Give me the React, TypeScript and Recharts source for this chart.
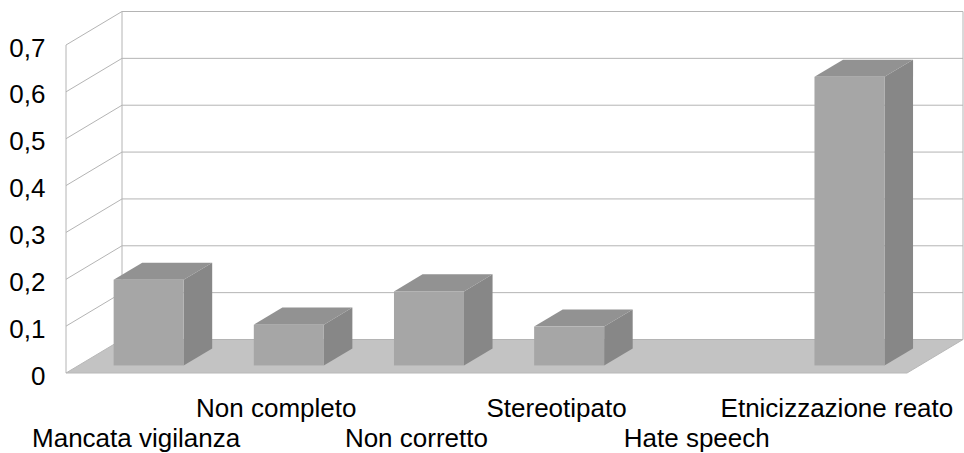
import React from 'react';
import { BarChart, Bar, XAxis, YAxis, CartesianGrid } from 'recharts';

// values
const categories = [
  'Mancata vigilanza',
  'Non completo',
  'Non corretto',
  'Stereotipato',
  'Hate speech',
  'Etnicizzazione reato',
];
const values = [0.183, 0.087, 0.158, 0.083, 0, 0.616];
const yTicks = [0, 0.1, 0.2, 0.3, 0.4, 0.5, 0.6, 0.7];

const data = categories.map((name, i) => ({ name, value: values[i] }));

// pseudo 3D depth of the chart box
const DX = 56;
const DY = 33.5;
const BAR_FRONT = 0.225;
const BAR_DEPTH = 0.51;
const GRID = '#b4b4b4';
const FONT = '"Liberation Sans", Arial, sans-serif';

const gridLine = (p: any) => {
  const { x1, x2, y1, y, height } = p;
  const bottom = y + height;
  const isFloor = Math.abs(y1 - bottom) < 0.5;
  const isTop = Math.abs(y1 - y) < 0.5;
  return (
    <g key={p.key}>
      {isFloor ? (
        <polygon
          points={`${x1},${bottom} ${x2},${bottom} ${x2 + DX},${bottom - DY} ${x1 + DX},${bottom - DY}`}
          fill="#c3c3c3"
          stroke="#b8b8b8"
          strokeWidth={1}
        />
      ) : (
        <line x1={x1} y1={y1} x2={x1 + DX} y2={y1 - DY} stroke={GRID} strokeWidth={1} />
      )}
      <line x1={x1 + DX} y1={y1 - DY} x2={x2 + DX} y2={y1 - DY} stroke={GRID} strokeWidth={1} />
      {isTop && (
        <>
          <line x1={x1} y1={y1} x2={x1} y2={bottom} stroke={GRID} strokeWidth={1} />
          <line x1={x1 + DX} y1={y1 - DY} x2={x1 + DX} y2={bottom - DY} stroke={GRID} strokeWidth={1} />
          <line x1={x2 + DX} y1={y1 - DY} x2={x2 + DX} y2={bottom - DY} stroke={GRID} strokeWidth={1} />
        </>
      )}
    </g>
  );
};

const Bar3D = (p: any) => {
  const { x, y, width, height } = p;
  if (!height || height <= 0) return <g />;
  const fx = x + DX * BAR_FRONT;
  const fy = y - DY * BAR_FRONT;
  const bx = DX * BAR_DEPTH;
  const by = DY * BAR_DEPTH;
  return (
    <g>
      <polygon
        points={`${fx},${fy} ${fx + bx},${fy - by} ${fx + width + bx},${fy - by} ${fx + width},${fy}`}
        fill="#929292"
      />
      <polygon
        points={`${fx + width},${fy} ${fx + width + bx},${fy - by} ${fx + width + bx},${fy + height - by} ${fx + width},${fy + height}`}
        fill="#878787"
      />
      <rect x={fx} y={fy} width={width} height={height} fill="#a6a6a6" />
    </g>
  );
};

const YTick = (p: any) => {
  const label = String(p.payload.value).replace('.', ',');
  return (
    <text x={45.5} y={p.y + 11.5} textAnchor="end" fontSize={26} fontFamily={FONT} fill="#000">
      {label}
    </text>
  );
};

const XTick = (p: any) => {
  const row = p.index % 2 === 0 ? 447 : 417.3;
  return (
    <text x={p.x} y={row} textAnchor="middle" fontSize={26} fontFamily={FONT} fill="#000">
      {p.payload.value}
    </text>
  );
};

export default function App() {
  return (
    <div style={{ position: 'absolute', left: 0, top: 0, background: '#fff' }}>
      <BarChart
        width={964}
        height={453}
        data={data}
        margin={{ top: 45, right: 57, bottom: 0, left: 0 }}
        barCategoryGap="25%"
      >
        <CartesianGrid vertical={false} horizontal={gridLine} />
        <XAxis
          dataKey="name"
          height={80}
          axisLine={false}
          tickLine={false}
          interval={0}
          tick={<XTick />}
        />
        <YAxis
          width={66}
          domain={[0, 0.7]}
          ticks={yTicks}
          axisLine={false}
          tickLine={false}
          tick={<YTick />}
        />
        <Bar dataKey="value" shape={<Bar3D />} isAnimationActive={false} />
      </BarChart>
    </div>
  );
}
